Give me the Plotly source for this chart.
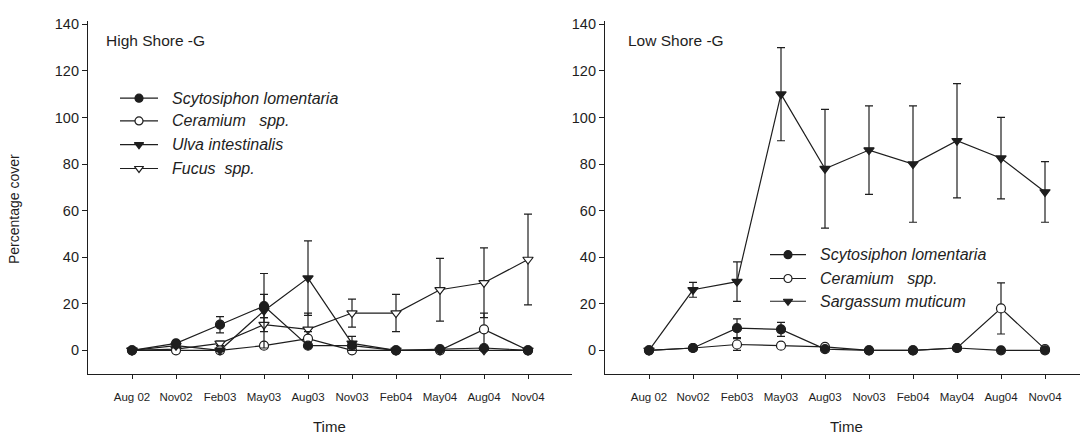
import plotly.graph_objects as go

# Sampling dates (categorical time axis)
times = ["Aug 02", "Nov02", "Feb03", "May03", "Aug03", "Nov03", "Feb04", "May04", "Aug04", "Nov04"]

# High shore: mean percentage cover and error
high_scyto = [0, 3, 11, 19, 2, 2, 0, 0.5, 1, 0]
high_scyto_err = [0, 1, 3.5, 5, 0.5, 1, 0.3, 0.3, 0.5, 0]
high_ceram = [0, 0, 0, 2, 5, 0, 0, 0, 9, 0]
high_ceram_err = [0, 0, 0, 1, 3, 0, 0, 0, 7, 0]
high_ulva = [0, 2, 0, 17, 31, 3, 0, 0, 0, 0]
high_ulva_err = [0, 1, 0.5, 16, 16, 3, 0, 0, 0, 0]
high_fucus = [0, 0.5, 3, 11, 9, 16, 16, 26, 29, 39]
high_fucus_err = [0, 0.5, 1, 3, 7, 6, 8, 13.5, 15, 19.5]

# Low shore: mean percentage cover and error
low_scyto = [0, 1, 9.5, 9, 0.5, 0, 0, 1, 0, 0]
low_scyto_err = [0, 0.5, 4, 3, 0.5, 0, 0, 0.5, 0, 0]
low_ceram = [0, 1, 2.5, 2, 1.5, 0, 0, 1, 18, 0.5]
low_ceram_err = [0, 0.5, 2.5, 0.5, 0.5, 0, 0, 0.5, 11, 0.3]
low_sarg = [0, 26, 29.5, 110, 78, 86, 80, 90, 82.5, 68]
low_sarg_err = [0, 3.2, 8.5, 20, 25.5, 19, 25, 24.5, 17.5, 13]

W, H = 1080, 439
INK = "#1e1e1e"
FONT = "Liberation Sans, Arial, sans-serif"

# pixel geometry of the two panels
TOP, BOTTOM = 17, 373
STEP = 44.0
L0, L1 = 88, 572
R0, R1 = 605, 1080

idx = list(range(len(times)))

STYLES = {
    "scyto": dict(symbol="circle", color=INK, size=9),
    "ceram": dict(symbol="circle", color="white", size=9),
    "ulva": dict(symbol="triangle-down", color=INK, size=9),
    "fucus": dict(symbol="triangle-down", color="white", size=9),
    "sarg": dict(symbol="triangle-down", color=INK, size=9),
}

fig = go.Figure()


def add_series(vals, errs, style, xa, ya):
    st = STYLES[style]
    fig.add_trace(go.Scatter(
        x=idx, y=vals, xaxis=xa, yaxis=ya, mode="lines+markers",
        line=dict(color=INK, width=1.2),
        marker=dict(symbol=st["symbol"], size=st["size"], color=st["color"],
                    line=dict(color=INK, width=1.2)),
        error_y=dict(type="data", array=errs, visible=True, color=INK,
                     thickness=1.2, width=4),
        showlegend=False, hoverinfo="skip",
    ))


add_series(high_fucus, high_fucus_err, "fucus", "x", "y")
add_series(high_ceram, high_ceram_err, "ceram", "x", "y")
add_series(high_ulva, high_ulva_err, "ulva", "x", "y")
add_series(high_scyto, high_scyto_err, "scyto", "x", "y")

add_series(low_sarg, low_sarg_err, "sarg", "x2", "y2")
add_series(low_ceram, low_ceram_err, "ceram", "x2", "y2")
add_series(low_scyto, low_scyto_err, "scyto", "x2", "y2")


# hand-drawn legend keys on a full-page pixel overlay
def legend_block(entries, x0, x1, text_x, rows):
    for (label, style), yy in zip(entries, rows):
        st = STYLES[style]
        fig.add_trace(go.Scatter(
            x=[x0, x1], y=[yy, yy], xaxis="x3", yaxis="y3", mode="lines",
            line=dict(color=INK, width=1.2), showlegend=False, hoverinfo="skip"))
        fig.add_trace(go.Scatter(
            x=[(x0 + x1) / 2], y=[yy], xaxis="x3", yaxis="y3", mode="markers",
            marker=dict(symbol=st["symbol"], size=8, color=st["color"],
                        line=dict(color=INK, width=1.2)),
            showlegend=False, hoverinfo="skip"))
        fig.add_annotation(x=text_x, y=yy, xref="x3", yref="y3", text=label,
                           showarrow=False, xanchor="left", yanchor="middle",
                           font=dict(family=FONT, size=16, color=INK))


legend_block(
    [("<i>Scytosiphon lomentaria</i>", "scyto"),
     ("<i>Ceramium   spp.</i>", "ceram"),
     ("<i>Ulva intestinalis</i>", "ulva"),
     ("<i>Fucus  spp.</i>", "fucus")],
    120, 158, 170, [95, 118, 142, 166])

legend_block(
    [("<i>Scytosiphon lomentaria</i>", "scyto"),
     ("<i>Ceramium   spp.</i>", "ceram"),
     ("<i>Sargassum muticum</i>", "sarg")],
    770, 806, 818, [253, 277, 300])

# panel titles and axis titles
labels = [("High Shore -G", 104, 37, 0, "left", 15.5),
          ("Low Shore -G", 626, 37, 0, "left", 15.5),
          ("Time", 329, 426, 0, "center", 15),
          ("Time", 846, 426, 0, "center", 15),
          ("Percentage cover", 14, 207, -90, "center", 14)]
for txt, xx, yy, ang, anc, fs in labels:
    fig.add_annotation(x=xx, y=yy, xref="x3", yref="y3", text=txt, showarrow=False,
                       xanchor=anc, yanchor="middle", textangle=ang,
                       font=dict(family=FONT, size=fs, color=INK))

ydom = [(H - BOTTOM) / H, (H - TOP) / H]
yrange = [-10, -10 + (BOTTOM - TOP) / ((349 - 20) / 140)]

xcommon = dict(tickmode="array", tickvals=idx, ticktext=times, showline=True,
               linecolor=INK, linewidth=1.2, ticks="outside", ticklen=4, tickcolor=INK,
               showgrid=False, zeroline=False, ticklabelstandoff=8,
               tickfont=dict(family=FONT, size=11.5, color=INK))
ycommon = dict(range=yrange, tickmode="array", tickvals=list(range(0, 141, 20)),
               showline=True, linecolor=INK, linewidth=1.2, ticks="outside", ticklen=5,
               tickcolor=INK, showgrid=False, zeroline=False,
               tickfont=dict(family=FONT, size=14.5, color=INK))

fig.update_layout(
    width=W, height=H, margin=dict(l=0, r=0, t=0, b=0),
    paper_bgcolor="white", plot_bgcolor="rgba(0,0,0,0)",
    xaxis=dict(domain=[L0 / W, L1 / W], range=[-1, -1 + (L1 - L0) / STEP],
               anchor="y", **xcommon),
    yaxis=dict(domain=ydom, anchor="x", **ycommon),
    xaxis2=dict(domain=[R0 / W, R1 / W], range=[-1, -1 + (R1 - R0) / STEP],
                anchor="y2", **xcommon),
    yaxis2=dict(domain=ydom, anchor="x2", **ycommon),
    xaxis3=dict(domain=[0, 1], range=[0, W], visible=False, anchor="y3"),
    yaxis3=dict(domain=[0, 1], range=[H, 0], visible=False, anchor="x3"),
    showlegend=False,
)

fig.write_html("out.html")
